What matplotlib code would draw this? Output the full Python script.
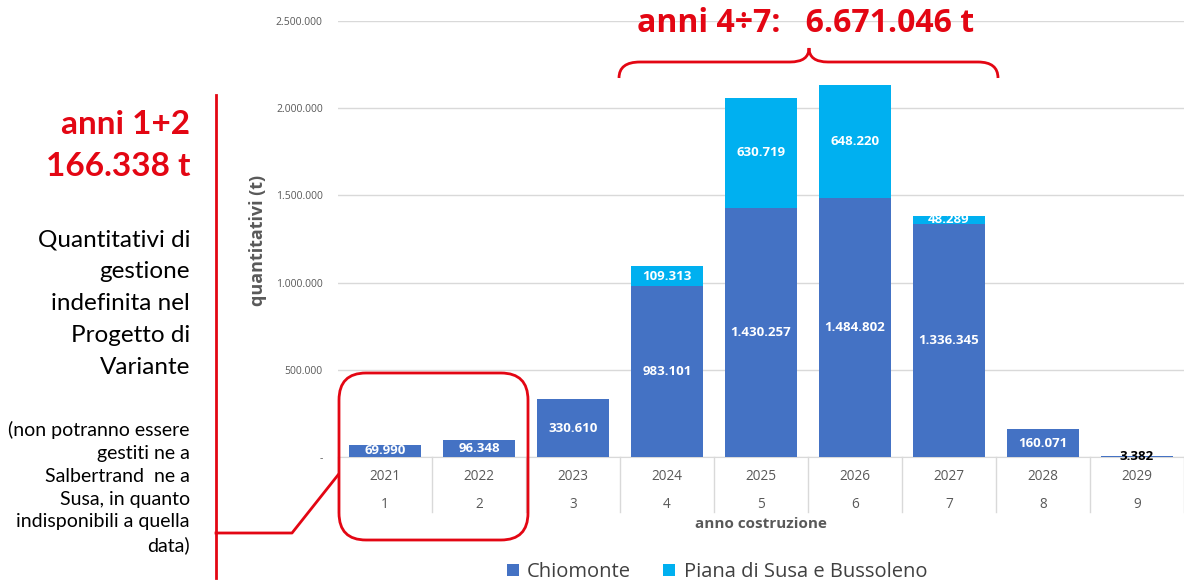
import numpy as np
import matplotlib

matplotlib.use("Agg")
import matplotlib.pyplot as plt
from matplotlib.patches import FancyBboxPatch, PathPatch
from matplotlib.path import Path
from matplotlib.ticker import FuncFormatter

years = ["2021", "2022", "2023", "2024", "2025", "2026", "2027", "2028", "2029"]
year_index = ["1", "2", "3", "4", "5", "6", "7", "8", "9"]
chiomonte = [69990, 96348, 330610, 983101, 1430257, 1484802, 1336345, 160071, 3382]
piana = [0, 0, 0, 109313, 630719, 648220, 48289, 0, 0]
series_names = ["Chiomonte", "Piana di Susa e Bussoleno"]
y_ticks = [0, 500000, 1000000, 1500000, 2000000, 2500000]

BLUE = "#4472C4"
CYAN = "#00B0F0"
RED = "#E30613"
GRAY = "#595959"
W, H = 1184, 584

plt.rcParams["font.family"] = ["Open Sans", "DejaVu Sans"]
LATO = ["Lato", "DejaVu Sans"]


def fmt_it(v):
    return f"{int(round(v)):,}".replace(",", ".")


def px(x, y):
    # pixel coords (top-left origin) -> inches for dpi_scale_trans
    return x / 100, (H - y) / 100


fig = plt.figure(figsize=(W / 100, H / 100), dpi=100)
ax = fig.add_axes([338 / W, 1 - 457 / H, (W - 338) / W, (457 - 21) / H])

x = np.arange(len(years))
ax.bar(x, chiomonte, 0.77, color=BLUE, label=series_names[0], zorder=3)
ax.bar(x, piana, 0.77, bottom=chiomonte, color=CYAN, label=series_names[1], zorder=3)

for i, (c, p) in enumerate(zip(chiomonte, piana)):
    if c > 20000:
        ax.text(i, c / 2, fmt_it(c), ha="center", va="center", color="white",
                fontsize=9.5, fontweight="bold", zorder=4)
    else:
        ax.text(i, c, fmt_it(c), ha="center", va="center", color="black",
                fontsize=9.5, fontweight="bold", zorder=4)
    if p > 0:
        ax.text(i, c + p / 2, fmt_it(p), ha="center", va="center", color="white",
                fontsize=9.5, fontweight="bold", zorder=4)

ax.set_xlim(-0.5, len(years) - 0.5)
ax.set_ylim(0, 2500000)
ax.set_yticks(y_ticks)
ax.yaxis.set_major_formatter(FuncFormatter(lambda v, _: "-" if v == 0 else fmt_it(v)))
ax.tick_params(axis="y", length=0, pad=11, labelsize=7.5, labelcolor=GRAY)
ax.set_xticks([])
ax.grid(axis="y", color="#D9D9D9", linewidth=1, zorder=0)
for s in ["top", "right", "left"]:
    ax.spines[s].set_visible(False)
ax.spines["bottom"].set_color("#D9D9D9")

# two-level category axis
for i in range(len(years)):
    ax.text(i, -0.045, years[i], transform=ax.get_xaxis_transform(), ha="center",
            va="center", fontsize=9.8, color=GRAY)
    ax.text(i, -0.108, year_index[i], transform=ax.get_xaxis_transform(), ha="center",
            va="center", fontsize=9.8, color=GRAY)
for b in np.arange(-0.5, len(years)):
    ax.plot([b, b], [0, -0.125], transform=ax.get_xaxis_transform(), color="#D9D9D9",
            lw=1, clip_on=False)
ax.text(0.5, -0.154, "anno costruzione", transform=ax.transAxes, ha="center",
        va="center", fontsize=11, fontweight="bold", color=GRAY)
fig.text(258 / W, 1 - 240 / H, "quantitativi (t)", rotation=90, ha="center", va="center",
         fontsize=13, fontweight="bold", color=GRAY)

fig.legend(loc="center", bbox_to_anchor=(717 / W, 1 - 572 / H), ncol=2, frameon=False,
           fontsize=14.5, handlelength=0.6, handleheight=0.6, handletextpad=0.4,
           columnspacing=1.6, labelcolor="#404040", borderpad=0)

# red annotations
t = fig.dpi_scale_trans
fig.text(806 / W, 1 - 23 / H, "anni 4÷7:   6.671.046 t", ha="center", va="center",
         fontsize=23, fontweight="bold", color=RED)
brace = [px(619, 78), px(619, 62), px(640, 62), px(790, 62), px(809, 62), px(809, 48),
         px(809, 62), px(828, 62), px(978, 62), px(998, 62), px(998, 78)]
codes = [Path.MOVETO, Path.CURVE3, Path.CURVE3, Path.LINETO, Path.CURVE3, Path.CURVE3,
         Path.CURVE3, Path.CURVE3, Path.LINETO, Path.CURVE3, Path.CURVE3]
fig.add_artist(PathPatch(Path(brace, codes), transform=t, fill=False, edgecolor=RED, lw=2))

bx0, by0 = px(339, 540)
bx1, by1 = px(528, 373)
fig.add_artist(FancyBboxPatch((bx0, by0), bx1 - bx0, by1 - by0, transform=t,
                              boxstyle="round,pad=0,rounding_size=0.27",
                              fill=False, edgecolor=RED, lw=2))
lines = [[px(216, 95), px(216, 578)], [px(216, 533), px(292, 533), px(338, 475)]]
for seg in lines:
    xs, ys = zip(*seg)
    fig.add_artist(plt.Line2D(xs, ys, transform=t, color=RED, lw=2))

lx = 190 / W
fig.text(lx, 1 - 125 / H, "anni 1+2", ha="right", va="center", fontsize=24,
         fontweight="bold", color=RED, family=LATO)
fig.text(lx, 1 - 166 / H, "166.338 t", ha="right", va="center", fontsize=24,
         fontweight="bold", color=RED, family=LATO)
main_lines = ["Quantitativi di", "gestione", "indefinita nel", "Progetto di", "Variante"]
for k, s in enumerate(main_lines):
    fig.text(lx, 1 - (240 + 32 * k) / H, s, ha="right", va="center", fontsize=17.5,
             color="black", family=LATO)
note_lines = ["(non potranno essere", "gestiti ne a", "Salbertrand  ne a",
              "Susa, in quanto", "indisponibili a quella", "data)"]
for k, s in enumerate(note_lines):
    fig.text(lx, 1 - (430 + 23 * k) / H, s, ha="right", va="center", fontsize=14,
             color="black", family=LATO)

fig.savefig("out.png", dpi=100)
